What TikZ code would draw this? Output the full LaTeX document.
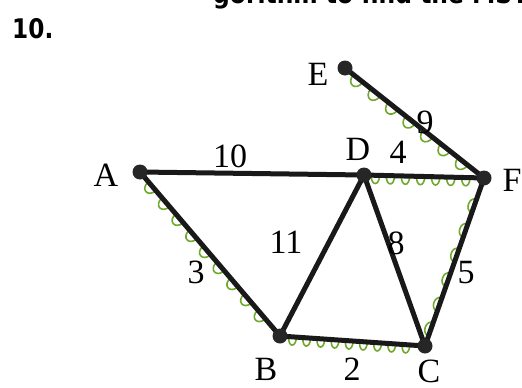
\documentclass[tikz,border=0pt]{standalone}
\usepackage{fontspec}
\setmainfont{Liberation Serif}
\newfontfamily\titlefont{DejaVu Sans}
\usetikzlibrary{calc}
\definecolor{hl}{RGB}{112,170,45}
\newcommand\hlloops[5]{% from, to, count, side angle, depth
  \foreach \k in {1,...,#3}{
    \pgfmathsetmacro\ta{0.06+0.88*(\k-1)/#3}
    \pgfmathsetmacro\tb{\ta+0.88*0.55/#3}
    \pgfmathsetmacro\nb{-(#4)}
    \path ($(#1)!\ta!(#2)$) coordinate (hp) ($(#1)!\tb!(#2)$) coordinate (hq);
    \draw[hlc] (hp) .. controls ($(hp)!#5!#4:(hq)$) and ($(hq)!#5!\nb:(hp)$) .. (hq);
  }}
\begin{document}
\begin{tikzpicture}[x=1pt,y=-1pt,
  vert/.style={circle,fill=black!85,inner sep=0pt,minimum size=15pt},
  edge/.style={line width=5pt,black!90},
  lbl/.style={font=\fontsize{34}{34}\selectfont,inner sep=0pt},
  hlc/.style={hl,line width=1.6pt,line cap=round}]
\useasboundingbox (0,0) rectangle (522,388);
\begin{scope}
\clip (0,0) rectangle (522,388);
\node[anchor=base west,inner sep=0pt,font=\titlefont\bfseries\fontsize{26}{26}\selectfont] (top) at (213,4) {\scalebox{0.9}[1]{gorithm to find the MST}};
\end{scope}
\node[anchor=base west,inner sep=0pt,font=\titlefont\bfseries\fontsize{27}{27}\selectfont] (num) at (12,38) {\scalebox{0.86}[1]{10.}};
\coordinate (A) at (140,172);
\coordinate (D) at (364,175);
\coordinate (F) at (484,178);
\coordinate (E) at (345,68);
\coordinate (B) at (280,336);
\coordinate (C) at (425,346);
% highlights
\hlloops{A}{B}{9}{-90}{11pt}
\hlloops{B}{C}{9}{-90}{11pt}
\hlloops{C}{F}{6}{90}{8pt}
\hlloops{D}{F}{7}{-90}{11pt}
\hlloops{E}{F}{7}{-90}{12pt}
% edges
\draw[edge] (A) -- (D);
\draw[edge] (D) -- (F);
\draw[edge] (E) -- (F);
\draw[edge] (A) -- (B);
\draw[edge] (B) -- (D);
\draw[edge] (D) -- (C);
\draw[edge] (B) -- (C);
\draw[edge] (C) -- (F);
\foreach \v in {A,B,C,D,E,F} \node[vert] (n\v) at (\v) {};
% vertex labels
\node[lbl] (lA) at (106,175) {A};
\node[lbl] (lD) at (358,149) {D};
\node[lbl] (lE) at (318,74) {E};
\node[lbl] (lF) at (512,180) {F};
\node[lbl] (lB) at (266,369) {B};
\node[lbl] (lC) at (429,371) {C};
% edge labels
\node[lbl] (w10) at (230,156) {10};
\node[lbl] (w4) at (398,152) {4};
\node[lbl] (w9) at (425,122) {9};
\node[lbl] (w11) at (286,242) {11};
\node[lbl] (w8) at (396,243) {8};
\node[lbl] (w3) at (196,272) {3};
\node[lbl] (w5) at (466,273) {5};
\node[lbl] (w2) at (352,369) {2};
\end{tikzpicture}
\end{document}
